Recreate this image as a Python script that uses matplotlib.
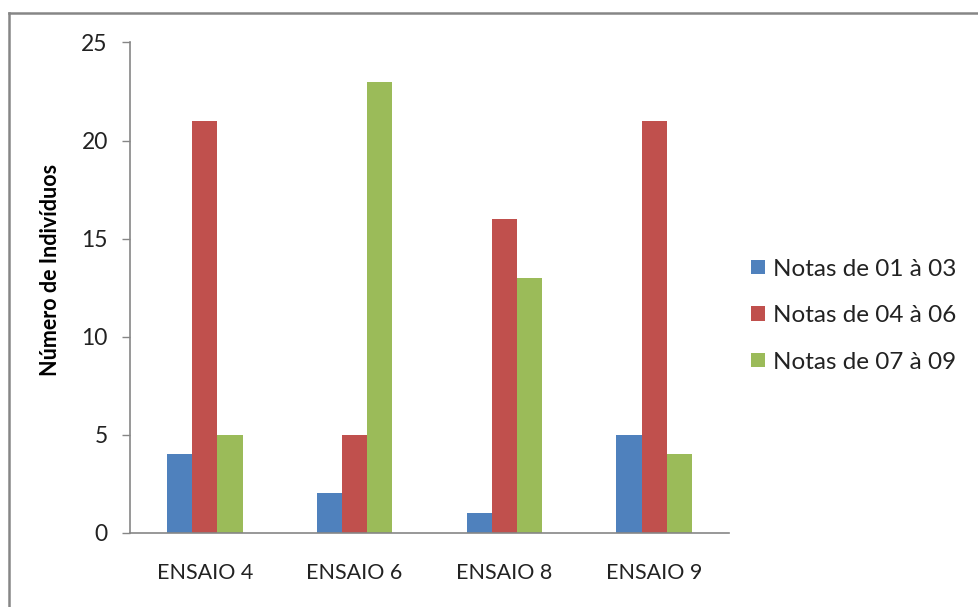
import matplotlib
matplotlib.use("Agg")
import matplotlib.pyplot as plt
import numpy as np
from matplotlib.lines import Line2D
from matplotlib.patches import Patch

categories = ["ENSAIO 4", "ENSAIO 6", "ENSAIO 8", "ENSAIO 9"]
series_names = ["Notas de 01 à 03", "Notas de 04 à 06", "Notas de 07 à 09"]
notas_01_03 = [4, 2, 1, 5]
notas_04_06 = [21, 5, 16, 21]
notas_07_09 = [5, 23, 13, 4]
colors = ["#4F81BD", "#C0504D", "#9BBB59"]
y_ticks = [0, 5, 10, 15, 20, 25]

plt.rcParams['font.family'] = ['Lato', 'DejaVu Sans']

fig = plt.figure(figsize=(9.79, 6.07), dpi=100)
ax = fig.add_axes([0.1328, 0.1224, 0.6118, 0.8076])

x = np.arange(len(categories))
w = 0.168
for i, (vals, name) in enumerate(zip([notas_01_03, notas_04_06, notas_07_09], series_names)):
    ax.bar(x + (i - 1) * w, vals, width=w, color=colors[i], label=name, zorder=2)

ax.set_xlim(-0.5, len(categories) - 0.5)
ax.set_ylim(0, 25)
ax.set_yticks(y_ticks)
ax.set_xticks(x)
ax.set_xticklabels(categories)
for s in ["top", "right"]:
    ax.spines[s].set_visible(False)
for s in ["left", "bottom"]:
    ax.spines[s].set_color("#868686")
    ax.spines[s].set_linewidth(1.2)
ax.tick_params(axis="y", direction="out", length=6, width=1, color="#868686",
               labelsize=16.5, pad=10, labelcolor="#222222")
ax.tick_params(axis="x", length=0, labelsize=15.5, pad=22, labelcolor="#222222")
ax.set_ylabel("Número de Indivíduos", fontsize=15.5, fontweight="bold")
ax.yaxis.set_label_coords(-0.1152, 0.536)

handles = [Patch(facecolor=c, edgecolor="none") for c in colors]
leg = fig.legend(handles, series_names, loc="center left", bbox_to_anchor=(0.745, 0.48),
                 frameon=False, handlelength=0.55, handleheight=0.55,
                 handletextpad=0.35, labelspacing=1.05, prop={'size': 17.5})
for t in leg.get_texts():
    t.set_color("#222222")

# outer chart border
fig.add_artist(Line2D([9/979, 1.0], [1 - 13/607, 1 - 13/607], transform=fig.transFigure,
                      color="#868686", linewidth=1.8))
fig.add_artist(Line2D([9/979, 9/979], [0.0, 1 - 13/607], transform=fig.transFigure,
                      color="#868686", linewidth=1.8))

fig.savefig("out.png", dpi=100)
